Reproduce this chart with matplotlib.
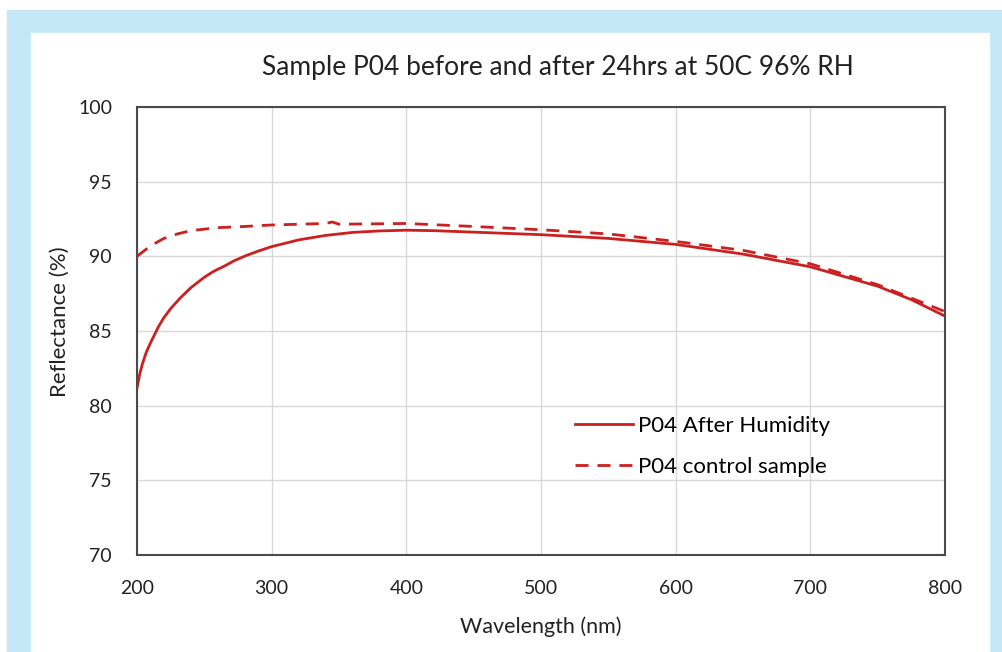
import matplotlib.pyplot as plt
from matplotlib.patches import Rectangle

# data
wl_after = [200, 202, 204, 207, 210, 213, 216, 220, 225, 232, 240, 250, 257, 265, 272,
            281, 290, 300, 320, 340, 360, 380, 400, 420, 450, 500, 550, 600, 650, 700,
            750, 775, 800]
refl_after = [81.2, 82.1, 82.8, 83.6, 84.2, 84.75, 85.3, 85.9, 86.5, 87.2, 87.9, 88.6,
              89.0, 89.35, 89.7, 90.05, 90.35, 90.65, 91.1, 91.4, 91.6, 91.7, 91.75,
              91.72, 91.62, 91.45, 91.2, 90.8, 90.15, 89.3, 88.0, 87.1, 86.0]

wl_control = [200, 210, 220, 230, 240, 260, 280, 300, 340, 345, 350, 400, 450, 500,
              550, 600, 650, 700, 750, 800]
refl_control = [90.0, 90.7, 91.2, 91.5, 91.72, 91.92, 92.0, 92.1, 92.2, 92.3, 92.15,
                92.2, 92.0, 91.78, 91.5, 91.0, 90.4, 89.5, 88.1, 86.3]

x_ticks = [200, 300, 400, 500, 600, 700, 800]
y_ticks = [70, 75, 80, 85, 90, 95, 100]

RED = '#cc1f1f'
FONT = 'Lato'
TXT = '#222222'

fig = plt.figure(figsize=(10.02, 6.52), dpi=100, facecolor='white')
W, H = 1002, 652

# light blue frame and white panel (behind the axes)
fig.patches.append(Rectangle((7 / W, 0), 995 / W, (H - 10) / H,
                             transform=fig.transFigure, color='#c5e8f7', zorder=-10))
fig.patches.append(Rectangle((31 / W, 0), 958 / W, (H - 33) / H,
                             transform=fig.transFigure, color='white', zorder=-9))

ax = fig.add_axes([137 / W, (H - 555) / H, 808 / W, 448 / H])
ax.set_facecolor('white')

ax.plot(wl_after, refl_after, color=RED, linewidth=2, label='P04 After Humidity')
ax.plot(wl_control, refl_control, color=RED, linewidth=2, linestyle=(0, (4.7, 3.2)),
        label='P04 control sample')

ax.set_xlim(200, 800)
ax.set_ylim(70, 100)
ax.set_xticks(x_ticks)
ax.set_yticks(y_ticks)
ax.tick_params(length=0, labelsize=14, colors=TXT, pad=18)
for lab in ax.get_xticklabels() + ax.get_yticklabels():
    lab.set_fontfamily(FONT)
ax.grid(True, color='#d9d9d9', linewidth=1)
ax.set_axisbelow(True)
for s in ax.spines.values():
    s.set_color('#4a4a4a')
    s.set_linewidth(1.5)

ax.set_xlabel('Wavelength (nm)', fontsize=15.5, family=FONT, color=TXT, labelpad=14)
ax.set_ylabel('Reflectance (%)', fontsize=16, family=FONT, color=TXT)
ax.yaxis.set_label_coords((70 - 137) / 808, (555 - 322) / 448)

fig.text(558 / W, 1 - 67 / H, 'Sample P04 before and after 24hrs at 50C 96% RH',
         ha='center', va='center', fontsize=19, family=FONT, color=TXT)

ax.legend(loc='upper left', bbox_to_anchor=((555 - 137) / 808, (555 - 396) / 448),
          frameon=False, prop={'family': FONT, 'size': 16}, handlelength=2.6,
          labelspacing=0.95, handletextpad=0.25)

fig.savefig('out.png', dpi=100)
